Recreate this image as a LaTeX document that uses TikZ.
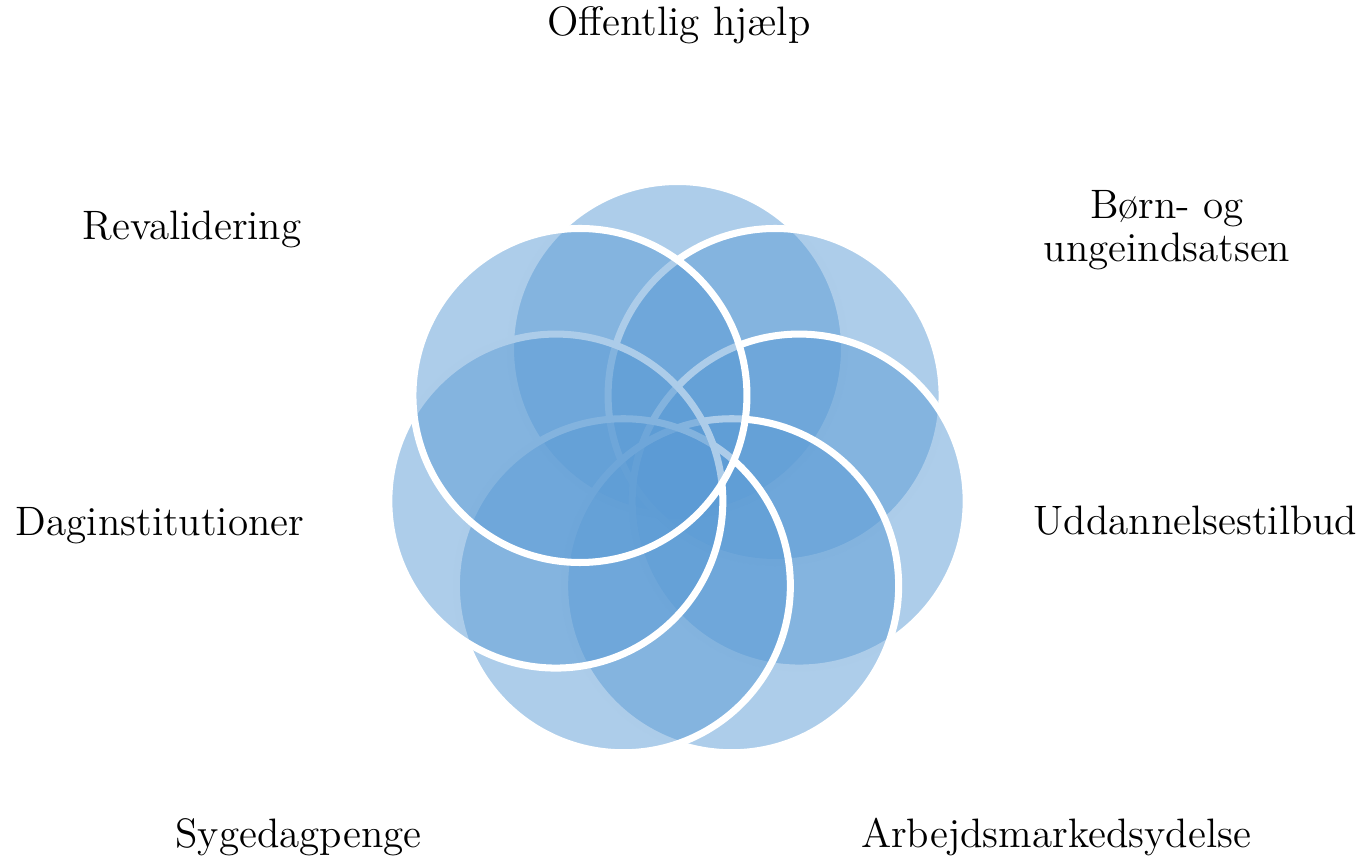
\documentclass[tikz,border=0pt]{standalone}
\begin{document}
\begin{tikzpicture}
            \definecolor{petalblue}{RGB}{91,155,213}
            \tikzset{
                petal/.style={fill=petalblue, fill opacity=0.5, draw=white, draw opacity=1, line width=2pt},
                lbl/.style={font=\fontsize{11.7}{12}\selectfont, anchor=base, inner sep=0pt, align=center}
            }

            \useasboundingbox (0,0) rectangle (13.66,8.57);

            \coordinate (hub) at (6.775,3.837);

            \foreach \k in {0,...,6}
                \draw[petal, shift={(hub)}] (90-\k*360/7:1.248) circle (1.67);

            \node[lbl] (help) at (6.79,8.21) {Offentlig hjælp};
            \node[lbl] (born) at (11.67,5.95) {Børn- og\\[0.4pt]ungeindsatsen};
            \node[lbl] (udd) at (11.955,3.23) {Uddannelsestilbud};
            \node[lbl] (arb) at (10.56,0.10) {Arbejdsmarkedsydelse};
            \node[lbl] (syg) at (2.985,0.10) {Sygedagpenge};
            \node[lbl] (dag) at (1.60,3.22) {Daginstitutioner};
            \node[lbl] (rev) at (1.92,6.17) {Revalidering};
        \end{tikzpicture}
\end{document}
